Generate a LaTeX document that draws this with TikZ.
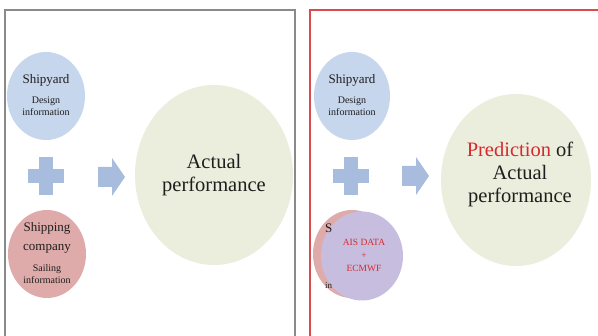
\documentclass[tikz,border=0pt]{standalone}
\usepackage{fontspec}
\setmainfont{Liberation Serif}
\usetikzlibrary{shapes.geometric}
\definecolor{yardblue}{HTML}{C6D6EC}
\definecolor{shippink}{HTML}{DFAAAA}
\definecolor{perfgreen}{HTML}{ECEEDD}
\definecolor{signblue}{HTML}{A8BCDD}
\definecolor{aislav}{HTML}{C7BEDF}
\definecolor{hotred}{HTML}{D42A2E}
\definecolor{framered}{HTML}{DA4A4E}
\definecolor{framegray}{HTML}{8A8A8A}
\definecolor{inktext}{HTML}{1E1E1E}
\tikzset{
  bubble/.style={ellipse, inner sep=0pt, align=center, text=inktext},
  bigfont/.style={font=\fontsize{20.5}{23}\selectfont},
  headfont/.style={font=\fontsize{13}{19}\selectfont},
  smallfont/.style={font=\fontsize{10}{12}\selectfont},
}
\newcommand{\plussign}[2]{%
  \fill[signblue] (#1-7,#2-19) rectangle (#1+7,#2+19);
  \fill[signblue] (#1-18,#2-7) rectangle (#1+18,#2+7);}
\newcommand{\arrowsign}[2]{%
  \fill[signblue] (#1,#2-10) -- (#1+14,#2-10) -- (#1+14,#2-19) -- (#1+27,#2)
    -- (#1+14,#2+19) -- (#1+14,#2+10) -- (#1,#2+10) -- cycle;}
\begin{document}
\begin{tikzpicture}[x=1pt,y=-1pt]
\useasboundingbox (0,0) rectangle (598,336);
\clip (0,0) rectangle (598,336);
\fill[white] (0,0) rectangle (598,336);

% ---- left panel: actual performance ----
\draw[framegray, line width=1.2pt] (5,345) -- (5,10) -- (295,10) -- (295,345);
\node[bubble, fill=yardblue, minimum width=78pt, minimum height=88pt] (yardL) at (46,96) {};
\node[headfont, text=inktext] (yardLt) at (46,80) {Shipyard};
\node[smallfont, text=inktext, align=center] (yardLs) at (46,106) {Design\\information};
\node[bubble, fill=shippink, minimum width=78pt, minimum height=88pt] (shipL) at (47,254) {};
\node[headfont, text=inktext, align=center] (shipLt) at (47,238) {Shipping\\company};
\node[smallfont, text=inktext, align=center] (shipLs) at (47,274) {Sailing\\information};
\plussign{46}{176}
\arrowsign{98}{177}
\node[bubble, fill=perfgreen, minimum width=158pt, minimum height=180pt] (perfL) at (214,175) {};
\node[bigfont, text=inktext, align=center] (perfLt) at (214,175) {Actual\\performance};

% ---- right panel: prediction of actual performance ----
\draw[framered, line width=1.5pt] (310,345) -- (310,10) -- (605,10);
\node[bubble, fill=yardblue, minimum width=76pt, minimum height=88pt] (yardR) at (352,96) {};
\node[headfont, text=inktext] (yardRt) at (352,80) {Shipyard};
\node[smallfont, text=inktext, align=center] (yardRs) at (352,106) {Design\\information};
\node[bubble, fill=shippink, minimum width=78pt, minimum height=88pt] (shipR) at (352,254) {};
\node[bubble, fill=aislav, minimum width=82pt, minimum height=89pt] (aisR) at (362,256) {};
\node[headfont, text=inktext, anchor=base west, inner sep=0pt] (shipRs) at (325,233) {S};
\node[font=\fontsize{9}{11}\selectfont, text=inktext, anchor=base west, inner sep=0pt] (shipRi) at (325,289) {in};
\node[font=\fontsize{9.5}{13}\selectfont, text=hotred, align=center] (aisRt) at (364,255) {AIS DATA\\+\\ECMWF};
\plussign{351}{176}
\arrowsign{402}{176}
\node[bubble, fill=perfgreen, minimum width=150pt, minimum height=172pt] (perfR) at (516,180) {};
\node[bigfont, text=inktext, align=center] (perfRt) at (520,174)
  {\textcolor{hotred}{Prediction} of\\Actual\\performance};
\end{tikzpicture}
\end{document}
